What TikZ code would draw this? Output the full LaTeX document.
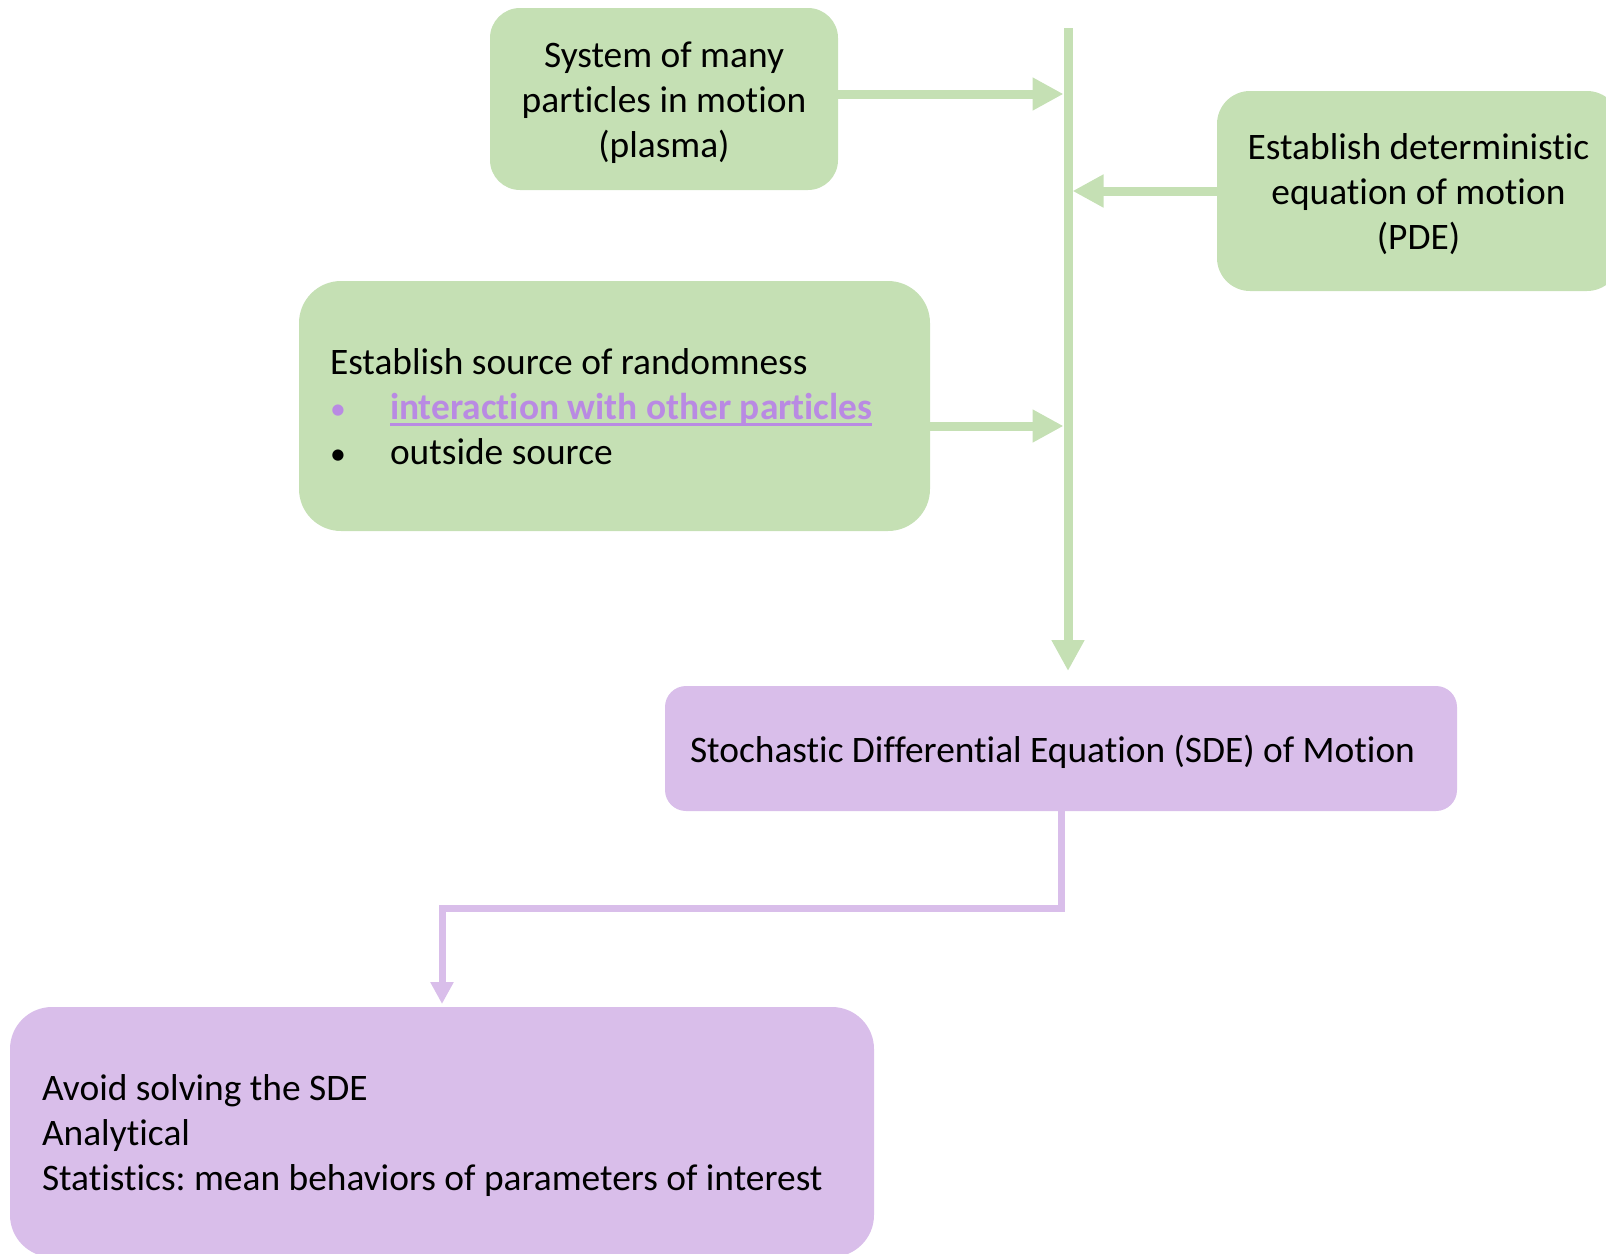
\documentclass[tikz,border=0pt]{standalone}
\usepackage{fontspec}
\setmainfont{Carlito}[Ligatures={NoCommon,NoContextual}]
\usetikzlibrary{arrows.meta}
\definecolor{boxgreen}{HTML}{C5E0B4}
\definecolor{boxpurple}{HTML}{D9BEEA}
\definecolor{linkpurple}{HTML}{B98AE3}
% fixed line strut: every text line is 45pt tall (36pt above, 9pt below the baseline)
\newcommand\ls{\rule[-9pt]{0pt}{45pt}}
% underlined link-style text with a solid rule below it
\newcommand\linkline[1]{\setbox0\hbox{#1}\rlap{\rule[-6pt]{\wd0}{2.5pt}}\box0}
\newcommand\bulletitem[1]{\makebox[60pt][l]{\scalebox{0.85}{•}}#1}
\frenchspacing

\begin{document}
\begin{tikzpicture}[x=1pt,y=-1pt,
  box/.style={inner sep=0pt, outer sep=0pt, font=\fontsize{37.4}{45}\selectfont\frenchspacing},
  greenbox/.style={box, fill=boxgreen},
  purplebox/.style={box, fill=boxpurple},
  greenflow/.style={draw=boxgreen, line width=9pt, -{Triangle[length=31pt,width=31pt]}},
  purpleflow/.style={draw=boxpurple, line width=7pt, -{Triangle[length=22pt,width=22pt]}},
]
\useasboundingbox (0,0) rectangle (1606,1253);

% green input boxes
\node[greenbox, minimum width=348pt, minimum height=182pt, rounded corners=30pt, align=center]
  (plasma) at (664,99) {\ls System of many\\\ls particles in motion\\\ls (plasma)};
\node[greenbox, minimum width=403pt, minimum height=200pt, rounded corners=33pt, align=center]
  (pde) at (1418.5,191) {\ls Establish deterministic\\\ls equation of motion\\\ls (PDE)};
\node[greenbox, minimum height=250pt, text width=569pt, inner xsep=31pt, rounded corners=42pt, align=flush left]
  (random) at (614.5,406) {\ls Establish source of randomness\\
  \ls{\color{linkpurple}\bulletitem{\bfseries\linkline{interaction with other particles}}}\\
  \ls\bulletitem{outside source}};

% purple result boxes
\node[purplebox, minimum height=125pt, text width=742pt, inner xsep=25pt, rounded corners=21pt, align=flush left]
  (sde) at (1061,748.5) {\ls Stochastic Differential Equation (SDE) of Motion};
\node[purplebox, minimum height=250pt, text width=800pt, inner xsep=32pt, rounded corners=42pt, align=flush left]
  (avoid) at (442,1132) {\ls Avoid solving the SDE\\\ls Analytical\\
  \ls\mbox{Statistics: mean behaviors of parameters of interest}};

% collecting bus
\coordinate (bustop) at (1068,28);
\draw[greenflow, shorten >=15pt] (bustop) -- (sde.north -| bustop);

% inputs joining the bus
\draw[greenflow, shorten >=4.5pt] ([yshift=5pt]plasma.east) -- ([yshift=5pt]plasma.east -| bustop);
\draw[greenflow, shorten >=4.5pt] (pde.west) -- (pde.west -| bustop);
\draw[greenflow, shorten >=4.5pt] ([yshift=-20pt]random.east) -- ([yshift=-20pt]random.east -| bustop);

% from the SDE to its treatment
\draw[purpleflow, shorten >=3pt] (sde.south) -- ++(0,97) -| (avoid.north);
\end{tikzpicture}
\end{document}
